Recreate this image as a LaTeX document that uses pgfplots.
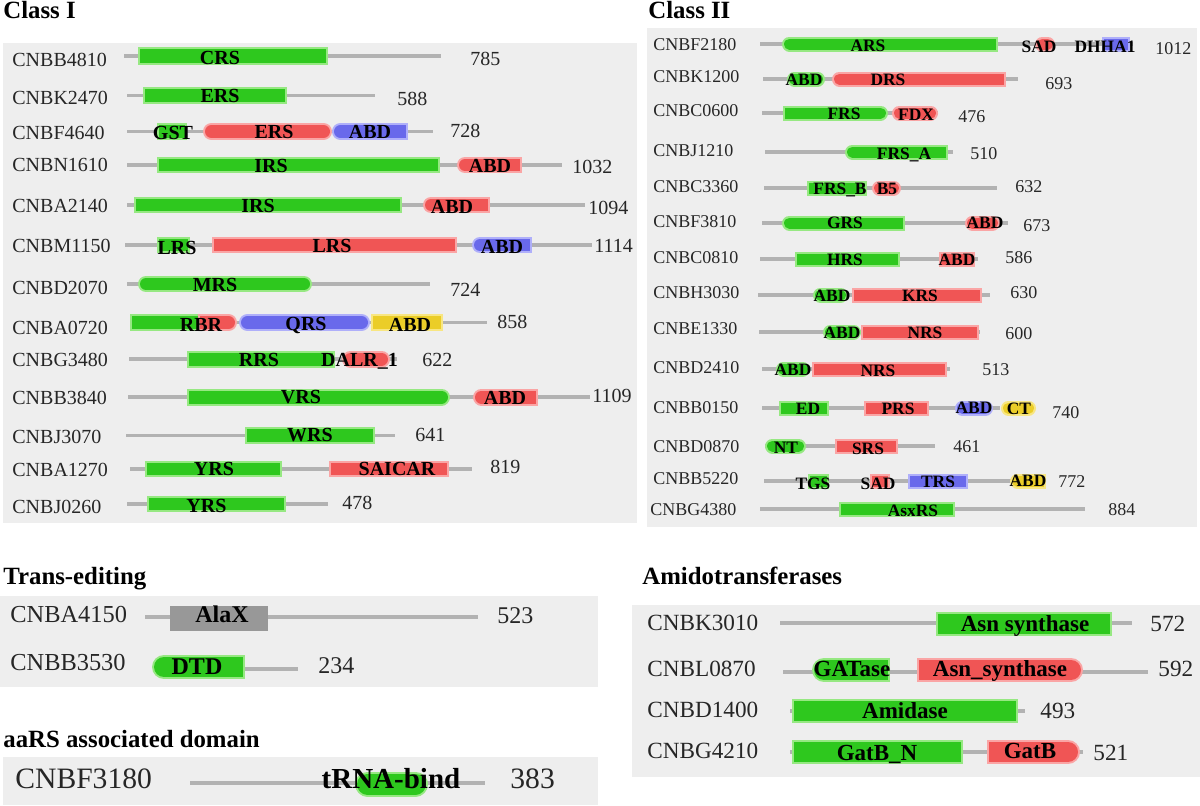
\documentclass[border=0pt]{standalone}
\usepackage{pgfplots}
\pgfplotsset{compat=1.18}
\usepackage{fontspec}
\setmainfont{Liberation Serif}
\definecolor{gM}{RGB}{46,200,30}
\definecolor{gL}{RGB}{150,232,130}
\definecolor{rM}{RGB}{240,85,85}
\definecolor{rL}{RGB}{250,165,165}
\definecolor{bM}{RGB}{105,105,235}
\definecolor{bL}{RGB}{175,175,250}
\definecolor{yM}{RGB}{235,205,40}
\definecolor{yL}{RGB}{248,230,130}
\definecolor{aM}{RGB}{152,152,152}
\definecolor{aL}{RGB}{152,152,152}
\definecolor{panel}{RGB}{238,238,238}
\definecolor{bb}{RGB}{178,178,178}

% filled rectangle (background boxes)
\newcommand{\panel}[5]{\addplot[fill=#5,draw=none,forget plot] coordinates {(#1,#2) (#3,#2) (#3,#4) (#1,#4)} -- cycle;}
% protein backbone
\newcommand{\prot}[3]{\addplot[draw=bb,line width=1.6pt,forget plot] coordinates {(#1,#3) (#2,#3)};}
% one segment
\newcommand{\seg}[6]{\addplot[draw=#5,line width=#4,line cap=#6,forget plot] coordinates {(#1,#3) (#2,#3)};}
% domains: x1 x2 y h colourprefix
\newcommand{\dRect}[5]{%
  \pgfmathsetmacro\xc{#1+2}\pgfmathsetmacro\xd{#2-2}%
  \seg{#1}{#2}{#3}{#4*0.5pt}{#5L}{butt}%
  \seg{\xc}{\xd}{#3}{(#4-4)*0.5pt}{#5M}{butt}}
\newcommand{\dRound}[5]{%
  \pgfmathsetmacro\xa{#1+#4/2}\pgfmathsetmacro\xb{#2-#4/2}%
  \seg{\xa}{\xb}{#3}{#4*0.5pt}{#5L}{round}%
  \seg{\xa}{\xb}{#3}{(#4-4)*0.5pt}{#5M}{round}}
\newcommand{\dLeft}[5]{%
  \pgfmathsetmacro\xa{#1+#4/2}\pgfmathsetmacro\xb{#2-#4/2}\pgfmathsetmacro\xm{(#1+#2)/2}\pgfmathsetmacro\xd{#2-2}%
  \seg{\xa}{\xb}{#3}{#4*0.5pt}{#5L}{round}%
  \seg{\xm}{#2}{#3}{#4*0.5pt}{#5L}{butt}%
  \seg{\xa}{\xb}{#3}{(#4-4)*0.5pt}{#5M}{round}%
  \seg{\xm}{\xd}{#3}{(#4-4)*0.5pt}{#5M}{butt}}
\newcommand{\dRight}[5]{%
  \pgfmathsetmacro\xa{#1+#4/2}\pgfmathsetmacro\xb{#2-#4/2}\pgfmathsetmacro\xm{(#1+#2)/2}\pgfmathsetmacro\xc{#1+2}%
  \seg{\xa}{\xb}{#3}{#4*0.5pt}{#5L}{round}%
  \seg{#1}{\xm}{#3}{#4*0.5pt}{#5L}{butt}%
  \seg{\xa}{\xb}{#3}{(#4-4)*0.5pt}{#5M}{round}%
  \seg{\xc}{\xm}{#3}{(#4-4)*0.5pt}{#5M}{butt}}
% text
\newcommand{\nm}[4]{\node[anchor=west,inner sep=0pt,text height=0.66em,text depth=0pt,font=\fontsize{#3pt}{#3pt}\selectfont,text=black!85] at (axis cs:#1,#2) {#4};}
\newcommand{\lab}[4]{\node[anchor=center,inner sep=0pt,text height=0.66em,text depth=0pt,font=\fontsize{#3pt}{#3pt}\selectfont\bfseries] at (axis cs:#1,#2) {#4};}
\newcommand{\ttl}[3]{\node[anchor=west,inner sep=0pt,text height=0.66em,text depth=0pt,font=\fontsize{12.4pt}{12.4pt}\selectfont\bfseries] at (axis cs:#1,#2) {#3};}

\begin{document}
\begin{tikzpicture}
\begin{axis}[
  scale only axis, width=600pt, height=402.5pt,
  xmin=0, xmax=1200, ymin=0, ymax=805, y dir=reverse,
  axis lines=none, ticks=none, clip=false,
]
\panel{0}{0}{1200}{805}{white}
\panel{3}{43}{637}{523}{panel}
\panel{647}{28}{1197}{527}{panel}
\panel{0}{596}{598}{687}{panel}
\panel{3}{757}{598}{805}{panel}
\panel{632}{605}{1200}{777}{panel}

% ================= Class I =================
\ttl{3}{12}{Class I}
% CNBB4810
\prot{124}{441}{56}
\dRect{138}{328}{56}{18}{g}
\nm{12}{59.5}{10}{CNBB4810}\lab{220}{58}{10}{CRS}\nm{470}{59}{10}{785}
% CNBK2470
\prot{127}{375}{95.5}
\dRect{143}{287}{95.5}{17}{g}
\nm{12}{97.5}{10}{CNBK2470}\lab{220}{95.5}{10}{ERS}\nm{397}{99}{10}{588}
% CNBF4640
\prot{127}{433}{131.5}
\dRect{157}{187}{131.5}{17}{g}
\dRound{203}{332}{131.5}{17}{r}
\dLeft{332}{408}{131.5}{17}{b}
\nm{12}{132.5}{10}{CNBF4640}\lab{173}{133}{10}{GST}\lab{274}{132}{10}{ERS}\lab{370}{132}{10}{ABD}\nm{450}{131}{10}{728}
% CNBN1610
\prot{127}{562}{165}
\dRect{157}{440}{165}{16}{g}
\dLeft{457}{522}{165}{16}{r}
\nm{12}{165}{10}{CNBN1610}\lab{271}{166}{10}{IRS}\lab{490}{166}{10}{ABD}\nm{572}{167}{10}{1032}
% CNBA2140
\prot{127}{585}{205}
\dRect{134}{402}{205}{16}{g}
\dLeft{423}{490}{205}{16}{r}
\nm{12}{206}{10}{CNBA2140}\lab{258}{206}{10}{IRS}\lab{452}{207}{10}{ABD}\nm{588}{208}{10}{1094}
% CNBM1150
\prot{125}{592}{245}
\dRect{157}{190}{245}{16}{g}
\dRect{212}{457}{245}{16}{r}
\dLeft{472}{532}{245}{16}{b}
\nm{12}{246}{10}{CNBM1150}\lab{177}{247.5}{10}{LRS}\lab{332}{246}{10}{LRS}\lab{502}{247}{10}{ABD}\nm{594}{246}{10}{1114}
% CNBD2070
\prot{127}{430}{284}
\dRound{138}{312}{284}{16}{g}
\nm{12}{288}{10}{CNBD2070}\lab{215}{285}{10}{MRS}\nm{450}{290}{10}{724}
% CNBA0720
\prot{130}{487}{322.5}
\dRect{130}{200}{322.5}{17}{g}
\dRight{198}{237}{322.5}{17}{r}
\dRound{239}{370}{322.5}{17}{b}
\dRect{371}{443}{322.5}{17}{y}
\nm{12}{328}{10}{CNBA0720}\lab{201}{324.5}{10}{RBR}\lab{306}{324}{10}{QRS}\lab{410}{325}{10}{ABD}\nm{497}{322}{10}{858}
% CNBG3480
\prot{129}{397}{359}
\dRect{187}{335}{359}{17}{g}
\dRound{342}{390}{359}{17}{r}
\nm{12}{360}{10}{CNBG3480}\lab{259}{360}{10}{RRS}\lab{359.5}{360}{10}{DALR\_1}\nm{422}{360}{10}{622}
% CNBB3840
\prot{128}{590}{397}
\dRight{187}{450}{397}{17}{g}
\dLeft{473}{538}{397}{17}{r}
\nm{12}{398}{10}{CNBB3840}\lab{301}{396.5}{10}{VRS}\lab{505}{398}{10}{ABD}\nm{592}{396}{10}{1109}
% CNBJ3070
\prot{126}{395}{435.5}
\dRect{245}{375}{435.5}{17}{g}
\nm{12}{437}{10}{CNBJ3070}\lab{310}{435}{10}{WRS}\nm{415}{435}{10}{641}
% CNBA1270
\prot{130}{472}{469}
\dRect{145}{282}{469}{16}{g}
\dRect{329}{449}{469}{16}{r}
\nm{12}{470}{10}{CNBA1270}\lab{214}{469}{10}{YRS}\lab{397}{469}{10}{SAICAR}\nm{490}{467}{10}{819}
% CNBJ0260
\prot{127}{328}{504}
\dRect{147}{286}{504}{16}{g}
\nm{12}{507}{10}{CNBJ0260}\lab{206.5}{505.5}{10}{YRS}\nm{342}{503}{10}{478}

% ================= Class II =================
\ttl{648}{12}{Class II}
% CNBF2180
\prot{760}{1133}{44}
\dLeft{782}{998}{44}{15}{g}
\dRound{1035}{1055}{44}{15}{r}
\dRect{1102}{1130}{44}{15}{b}
\nm{653}{43.5}{9}{CNBF2180}\lab{868}{45}{8.7}{ARS}\lab{1039}{46}{8.7}{SAD}\lab{1105}{46}{8.7}{DHHA1}\nm{1155}{48}{9}{1012}
% CNBK1200
\prot{763}{1018}{79}
\dRound{787}{825}{79}{15}{g}
\dLeft{832}{1006}{79}{15}{r}
\nm{653}{76}{9}{CNBK1200}\lab{804}{79}{8.7}{ABD}\lab{888}{79}{8.7}{DRS}\nm{1045}{83}{9}{693}
% CNBC0600
\prot{762}{938}{113}
\dRight{783}{888}{113}{15}{g}
\dRound{892}{938}{113}{15}{r}
\nm{653}{109.5}{9}{CNBC0600}\lab{844}{113}{8.7}{FRS}\lab{916}{114}{8.7}{FDX}\nm{958}{116}{9}{476}
% CNBJ1210
\prot{765}{953}{152}
\dLeft{845}{948}{152}{15}{g}
\nm{653}{150}{9}{CNBJ1210}\lab{904}{153}{8.7}{FRS\_A}\nm{970}{153}{9}{510}
% CNBC3360
\prot{764}{997}{188}
\dRect{807}{867}{188}{15}{g}
\dRound{872}{901}{188}{15}{r}
\nm{653}{186}{9}{CNBC3360}\lab{840}{188}{8.7}{FRS\_B}\lab{887}{188}{8.7}{B5}\nm{1015}{186}{9}{632}
% CNBF3810
\prot{762}{1008}{223}
\dLeft{782}{905}{223}{15}{g}
\dRound{965}{1000}{223}{15}{r}
\nm{653}{221}{9}{CNBF3810}\lab{845}{222}{8.7}{GRS}\lab{985}{222}{8.7}{ABD}\nm{1023}{225}{9}{673}
% CNBC0810
\prot{760}{978}{259}
\dRect{795}{900}{259}{15}{g}
\dRect{939}{975}{259}{15}{r}
\nm{653}{257}{9}{CNBC0810}\lab{845}{259}{8.7}{HRS}\lab{957}{259}{8.7}{ABD}\nm{1005}{257}{9}{586}
% CNBH3030
\prot{758}{990}{295}
\dRound{813}{848}{295}{15}{g}
\dRect{852}{982}{295}{15}{r}
\nm{653}{292}{9}{CNBH3030}\lab{832}{295}{8.7}{ABD}\lab{920}{295}{8.7}{KRS}\nm{1010}{292}{9}{630}
% CNBE1330
\prot{759}{980}{332}
\dRound{823}{861}{332}{15}{g}
\dRect{861}{979}{332}{15}{r}
\nm{653}{328}{9}{CNBE1330}\lab{842}{332}{8.7}{ABD}\lab{925}{332}{8.7}{NRS}\nm{1005}{333}{9}{600}
% CNBD2410
\prot{762}{950}{369}
\dRound{776}{810}{369}{15}{g}
\dRect{812}{947}{369}{15}{r}
\nm{653}{367}{9}{CNBD2410}\lab{793}{369}{8.7}{ABD}\lab{878}{370}{8.7}{NRS}\nm{982}{369}{9}{513}
% CNBB0150
\prot{762}{1000}{408}
\dRect{779}{829}{408}{15}{g}
\dRect{864}{929}{408}{15}{r}
\dRound{955}{993}{408}{15}{b}
\dRound{1001}{1036}{408}{15}{y}
\nm{653}{407}{9}{CNBB0150}\lab{808}{408}{8.7}{ED}\lab{898}{408}{8.7}{PRS}\lab{974}{407}{8.7}{ABD}\lab{1019}{408}{8.7}{CT}\nm{1052}{412}{9}{740}
% CNBD0870
\prot{765}{935}{446}
\dRound{765}{806}{446}{15}{g}
\dRect{835}{898}{446}{15}{r}
\nm{653}{446}{9}{CNBD0870}\lab{786}{447}{8.7}{NT}\lab{868}{448}{8.7}{SRS}\nm{953}{446}{9}{461}
% CNBB5220
\prot{764}{1046}{481}
\dRect{808}{829}{481}{15}{g}
\dRect{870}{890}{481}{15}{r}
\dRect{908}{968}{481}{15}{b}
\dLeft{1010}{1046}{481}{15}{y}
\nm{653}{478}{9}{CNBB5220}\lab{813}{483}{8.7}{TGS}\lab{878}{483}{8.7}{SAD}\lab{938}{481}{8.7}{TRS}\lab{1028}{480}{8.7}{ABD}\nm{1058}{481}{9}{772}
% CNBG4380
\prot{760}{1085}{509}
\dRect{839}{955}{509}{15}{g}
\nm{650}{509}{9}{CNBG4380}\lab{913}{510}{8.7}{AsxRS}\nm{1108}{509}{9}{884}

% ================= Trans-editing =================
\ttl{3}{578}{Trans-editing}
\prot{145}{478}{617}
\dRect{170}{268}{618.5}{25}{a}
\nm{10}{615.5}{12.2}{CNBA4150}\lab{222}{616}{12}{AlaX}\nm{497}{617}{12}{523}
\prot{243}{298}{669}
\dLeft{152}{245}{667}{24}{g}
\nm{10}{664}{12.2}{CNBB3530}\lab{197}{668}{12}{DTD}\nm{318}{667}{12}{234}

% ================= aaRS associated domain =================
\ttl{3}{741}{aaRS associated domain}
\prot{190}{485}{783}
\dRound{355}{428}{784}{25}{g}
\nm{15}{782}{14.8}{CNBF3180}\lab{391}{782}{14.5}{tRNA-bind}\nm{510}{782}{14.8}{383}

% ================= Amidotransferases =================
\ttl{642}{578}{Amidotransferases}
\prot{780}{1132}{623}
\dRect{936}{1112}{624}{24}{g}
\nm{647}{623.5}{11.6}{CNBK3010}\lab{1025}{625}{11.5}{Asn synthase}\nm{1150}{625}{11.6}{572}
\prot{783}{1148}{672}
\dLeft{812}{890}{670}{24}{g}
\dRight{917}{1083}{670}{24}{r}
\nm{647}{670}{11.6}{CNBL0870}\lab{852}{670}{11.5}{GATase}\lab{1000}{670}{11.5}{Asn\_synthase}\nm{1158}{670}{11.6}{592}
\prot{790}{1025}{711}
\dRect{792}{1018}{711}{24}{g}
\nm{647}{711}{11.6}{CNBD1400}\lab{905}{712}{11.5}{Amidase}\nm{1040}{712}{11.6}{493}
\prot{790}{1083}{752}
\dRect{792}{963}{752}{24}{g}
\dRight{987}{1080}{752}{24}{r}
\nm{647}{752}{11.6}{CNBG4210}\lab{877}{754}{11.5}{GatB\_N}\lab{1030}{752}{11.5}{GatB}\nm{1093}{754}{11.6}{521}
\end{axis}
\end{tikzpicture}
\end{document}
